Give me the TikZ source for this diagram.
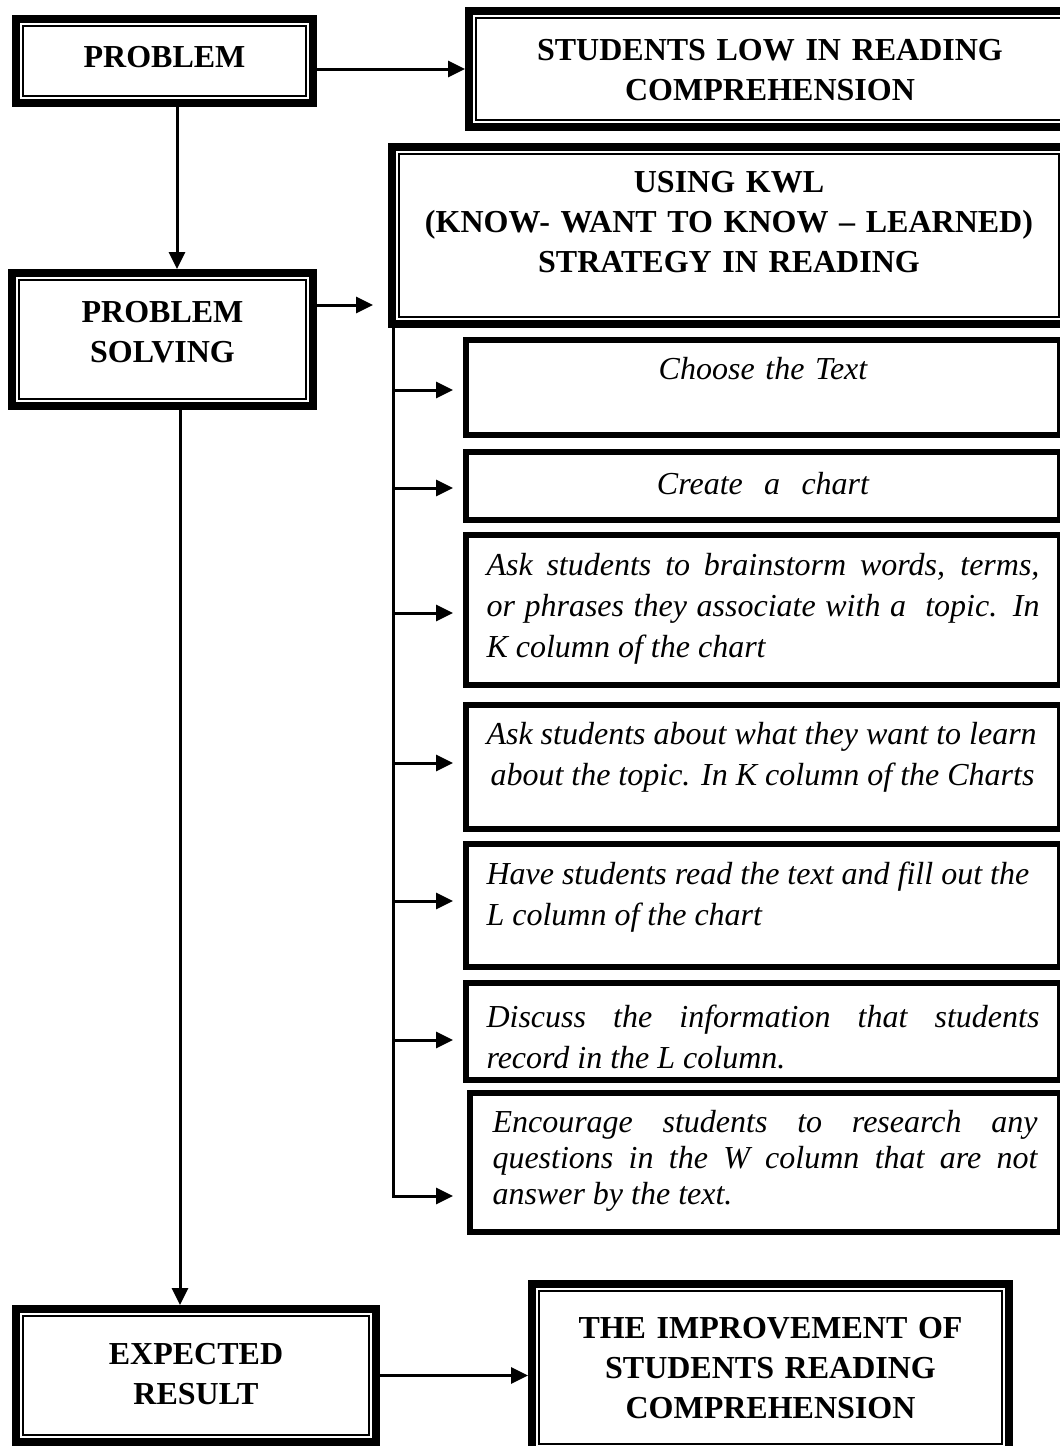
\documentclass[tikz,border=0pt]{standalone}
\usepackage{fontspec}
\setmainfont{Liberation Serif}
\usetikzlibrary{arrows.meta}
\hyphenpenalty=10000

\begin{document}
\begin{tikzpicture}[x=0.5pt,y=-0.5pt,
    dbox/.style={draw, line width=4pt, inner xsep=4pt, inner ysep=0pt, align=center,
        font=\fontsize{16}{20}\selectfont\bfseries},
    stepbox/.style={draw, line width=3pt, inner xsep=10.25pt, inner ysep=0pt,
        text width=276.5pt, align=justify, font=\fontsize{16}{20.5}\selectfont\itshape},
    conn/.style={line width=1.5pt, -{Triangle[length=8.5pt,width=8pt]}}]
    \useasboundingbox (0,0) rectangle (1060,1446);

    % Cajas principales (borde doble)
    \node[dbox, text width=140.5pt, text height=24.25pt, text depth=17.75pt] (prob) at (164.5,61) {PROBLEM};
    \node[dbox, text width=293pt, text height=24.75pt, text depth=33.25pt] (stud) at (770,69)
        {STUDENTS LOW IN READING\\ COMPREHENSION};
    \node[dbox, text width=329pt, text height=22.75pt, text depth=65.75pt] (kwl) at (729,235.5)
        {USING KWL\\ (KNOW- WANT TO KNOW -- LEARNED)\\ STRATEGY IN READING};
    \node[dbox, text width=142.5pt, text height=24.5pt, text depth=42pt] (ps) at (162.5,339.5)
        {PROBLEM\\ SOLVING};
    \node[dbox, text width=172pt, text height=27.5pt, text depth=39pt] (exp) at (196,1375.5)
        {EXPECTED\\ RESULT};
    \node[dbox, text width=230.5pt, text height=27.25pt, text depth=56.25pt] (imp) at (770.5,1367.5)
        {THE IMPROVEMENT OF\\ STUDENTS READING\\ COMPREHENSION};

    % Borde interior fino
    \foreach \n in {prob,stud,kwl,ps,exp,imp} {
        \draw[line width=1pt] ([shift={(5.5pt,-5.5pt)}]\n.north west)
            rectangle ([shift={(-5.5pt,5.5pt)}]\n.south east);
    }

    % Pasos KWL
    \node[stepbox, align=center, text height=19.5pt, text depth=28pt] (s1) at (763,387.5) {Choose the Text};
    \node[stepbox, align=center, text height=21pt, text depth=13pt] (s2) at (763,486) {Create\ \ a\ \ chart};
    \node[stepbox, text height=20pt, text depth=55pt] (s3) at (763,610)
        {Ask students to brainstorm words, terms,\linebreak or phrases they associate with a\ \ topic. In\linebreak K column of the chart};
    \node[stepbox, text height=19.5pt, text depth=42.5pt] (s4) at (763,767)
        {Ask students about what they want to learn\newline\hspace*{2pt}about the topic. In K column of the Charts};
    \node[stepbox, text height=20pt, text depth=41.5pt] (s5) at (763,905.5)
        {Have students read the text and fill out the\newline L column of the chart};
    \node[stepbox, text height=22pt, text depth=26.5pt] (s6) at (763,1031.5)
        {Discuss the information that students\linebreak record in the L column.};
    \node[stepbox, text width=272.5pt, inner xsep=11.25pt, text height=19.5pt, text depth=50pt,
        font=\fontsize{16}{18}\selectfont\itshape] (s7) at (765,1162.5)
        {Encourage students to research any\linebreak questions in the W column that are not\linebreak answer by the text.};

    % Flechas
    \coordinate (bus) at (393,0);
    \coordinate (kwlin) at (373,305);
    \coordinate (probdown) at ([xshift=6.25pt]prob.south);
    \coordinate (psdown) at ([xshift=8.75pt]ps.south);
    \draw[conn] (prob.east |- stud.west) -- (stud.west);
    \draw[conn] (probdown) -- (probdown |- ps.north);
    \draw[conn] (ps.east |- kwlin) -- (kwlin);
    \draw[conn] (psdown) -- (psdown |- exp.north);
    \draw[conn] (exp.east) -- (exp.east -| imp.west);
    \foreach \s/\dy in {s1/-1.25pt, s2/-1pt, s3/-1.5pt, s4/2pt, s5/2.25pt, s6/-4.25pt} {
        \coordinate (tip) at ([yshift=\dy]\s.west);
        \draw[conn, shorten >=5pt] (bus |- tip) -- (tip);
    }
    \coordinate (tip) at ([yshift=-16.75pt]s7.west);
    \draw[conn, shorten >=7pt] (bus |- kwl.south) |- (tip);
\end{tikzpicture}
\end{document}
